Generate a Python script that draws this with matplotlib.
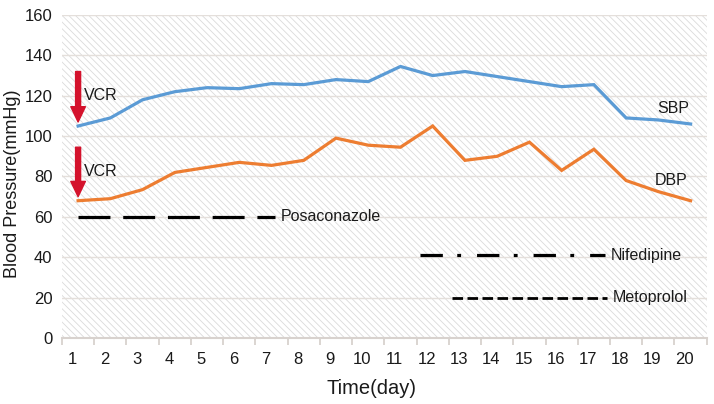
import matplotlib
matplotlib.use('Agg')
import matplotlib.pyplot as plt
import numpy as np

plt.rcParams['font.family'] = ['Liberation Sans', 'DejaVu Sans']
plt.rcParams['hatch.linewidth'] = 0.6
plt.rcParams['hatch.color'] = '#dadada'

## dados
days = list(range(1, 21))
sbp = [105, 109, 118, 122, 124, 123.5, 126, 125.5, 128, 127,
       134.5, 130, 132, 129.5, 127, 124.5, 125.5, 109, 108, 106]
dbp = [68, 69, 73.5, 82, 84.5, 87, 85.5, 88, 99, 95.5,
       94.5, 105, 88, 90, 97, 83, 93.5, 78, 72.5, 68]
yticks = [0, 20, 40, 60, 80, 100, 120, 140, 160]

## medicamentos: nome, nivel, inicio, fim
drugs = ['Posaconazole', 'Nifedipine', 'Metoprolol']
drug_level = [60, 41, 20]
drug_start = [1, 11.6, 12.6]
drug_end = [7.1, 17.35, 17.4]
drug_style = [(0, (10, 4)), (0, (7, 4.5, 1.2, 5)), (0, (3.8, 1.6))]
drug_lw = [2.3, 2.3, 2.0]

## VCR
vcr_top = [132, 94.5]
vcr_tip = [107, 70]

fig = plt.figure(figsize=(7.14, 4.04), dpi=100)
ax = fig.add_axes([0.0868, 0.1634, 0.903, 0.7995])
ax.set_xlim(0.5, 20.5)
ax.set_ylim(0, 160)
ax.patch.set_facecolor('white')
ax.patch.set_hatch('\\\\\\\\\\')
ax.patch.set_edgecolor('#dadada')
ax.patch.set_linewidth(0)

for s in ['top', 'right', 'left']:
    ax.spines[s].set_visible(False)
ax.spines['bottom'].set_color('#d8d2ce')
ax.spines['bottom'].set_linewidth(1.5)

ax.set_yticks(yticks)
ax.yaxis.grid(True, color='#e4dfdb', lw=1.0)
ax.set_axisbelow(True)
ax.tick_params(axis='y', length=0, pad=7, labelsize=12, labelcolor='#1a1a1a')

ax.set_xticks([d - 0.18 for d in days])
ax.set_xticklabels([str(d) for d in days])
ax.set_xticks(np.arange(0.5, 21, 1), minor=True)
ax.tick_params(axis='x', which='major', length=0, pad=10, labelsize=12, labelcolor='#1a1a1a')
ax.tick_params(axis='x', which='minor', length=5, width=1.3, color='#d8d2ce')

ax.plot(days, sbp, color='#5b9bd5', lw=2.3, solid_joinstyle='miter')
ax.plot(days, dbp, color='#ed7d31', lw=2.3, solid_joinstyle='miter')

ax.text(18.98, 113.5, 'SBP', fontsize=11.5, va='center', color='#1a1a1a')
ax.text(18.9, 78, 'DBP', fontsize=11.5, va='center', color='#1a1a1a')

for i in range(len(drugs)):
    ax.plot([drug_start[i], drug_end[i]], [drug_level[i], drug_level[i]],
            color='black', lw=drug_lw[i], linestyle=drug_style[i], dash_capstyle='butt')
    ax.text(drug_end[i] + 0.18, drug_level[i], drugs[i], fontsize=11.5,
            va='center', color='#1a1a1a')

for i in range(2):
    ax.annotate('', xy=(1, vcr_tip[i]), xytext=(1, vcr_top[i]),
                arrowprops=dict(arrowstyle='simple,head_width=1.05,head_length=1.1,tail_width=0.36',
                                color='#d4122c', shrinkA=0, shrinkB=0, mutation_scale=10))
    ax.text(1.18, vcr_top[i] - 12, 'VCR', fontsize=11.5, va='center', color='#1a1a1a')

ax.set_xlabel('Time(day)', fontsize=14.5, color='#1a1a1a')
ax.xaxis.set_label_coords(0.48, -0.155)
ax.xaxis.label.set_va('center')
ax.set_ylabel('Blood Pressure(mmHg)', fontsize=13, color='#1a1a1a')
ax.yaxis.set_label_coords(-0.076, 0.478)
ax.yaxis.label.set_va('center')

fig.savefig('out.png', dpi=100, facecolor='white')
